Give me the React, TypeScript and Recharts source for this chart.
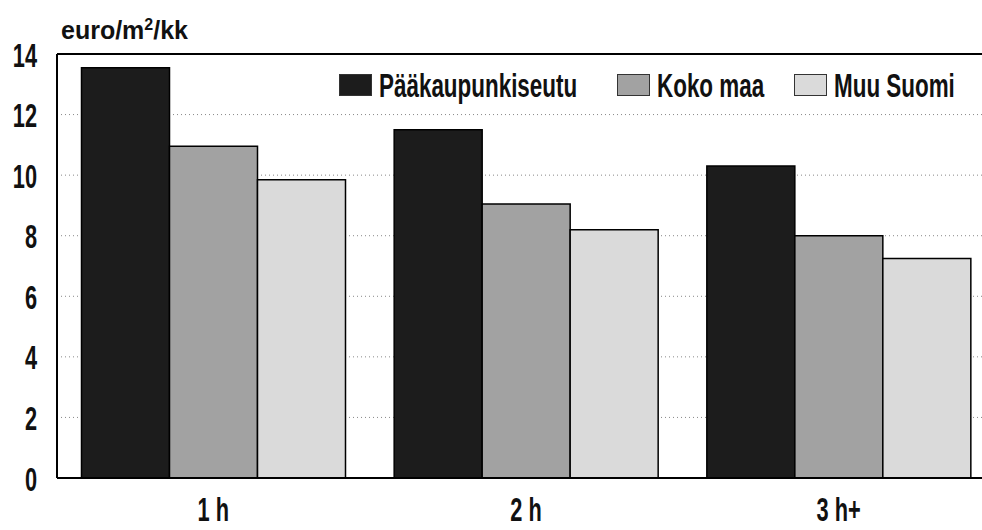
import React from "react"
import { BarChart, Bar, XAxis, YAxis, CartesianGrid, ReferenceLine } from "recharts"

// room types and rent per m2 per month
const categories = ["1 h", "2 h", "3 h+"]
const paakaupunkiseutu = [13.55, 11.5, 10.3]
const kokoMaa = [10.95, 9.05, 8.0]
const muuSuomi = [9.85, 8.2, 7.25]
const yTicks = [0, 2, 4, 6, 8, 10, 12, 14]

const seriesKeys = ["pk", "koko", "muu"]
const seriesNames = ["Pääkaupunkiseutu", "Koko maa", "Muu Suomi"]
const seriesColors = ["#1c1c1c", "#a2a2a2", "#dadada"]

const data = categories.map((c, i) => ({
  name: c,
  pk: paakaupunkiseutu[i],
  koko: kokoMaa[i],
  muu: muuSuomi[i],
}))

const FONT = "'Liberation Sans', Arial, sans-serif"
const SQUEEZE = 0.64

const YTick = (props: any) => {
  const { x, y, payload } = props
  return (
    <text
      transform={`translate(${x},${y}) scale(${SQUEEZE},1)`}
      textAnchor="end"
      dy={12.5}
      fontSize={34}
      fontWeight="bold"
      fontFamily={FONT}
      fill="#111"
    >
      {payload.value}
    </text>
  )
}

const XTick = (props: any) => {
  const { x, y, payload } = props
  return (
    <text
      transform={`translate(${x},${y}) scale(${SQUEEZE},1)`}
      textAnchor="middle"
      dy={43}
      fontSize={34}
      fontWeight="bold"
      fontFamily={FONT}
      fill="#111"
    >
      {payload.value}
    </text>
  )
}

const UnitLabel = () => (
  <text x={61} y={39} fontSize={25} fontWeight="bold" fontFamily={FONT} fill="#111">
    euro/m
    <tspan fontSize={16} dy={-9}>2</tspan>
    <tspan dy={9}>/kk</tspan>
  </text>
)

// legend item offsets, measured from the legend's left edge
const legendOffsets = [0, 278, 455]

function ChartLegend() {
  return (
    <svg width={640} height={30} style={{ position: "absolute", left: 339, top: 72, overflow: "visible" }}>
      {seriesNames.map((name, i) => (
        <g key={name} transform={`translate(${legendOffsets[i]},0)`}>
          <rect x={0.5} y={2.5} width={32} height={21} fill={seriesColors[i]} stroke="#333" strokeWidth={1} />
          <text
            transform={`translate(40,0) scale(0.68,1)`}
            y={25}
            fontSize={33}
            fontWeight="bold"
            fontFamily={FONT}
            fill="#111"
          >
            {name}
          </text>
        </g>
      ))}
    </svg>
  )
}

export default function App() {
  return (
    <div style={{ position: "absolute", left: 0, top: 0, width: 982, height: 530, overflow: "hidden", background: "#fff" }}>
      <BarChart
        width={1000}
        height={530}
        data={data}
        margin={{ top: 54, right: 5, left: 0, bottom: 0 }}
        barGap={0}
        barCategoryGap={24.5}
      >
        <CartesianGrid vertical={false} stroke="#888" strokeDasharray="1 3" />
        <YAxis
          domain={[0, 14]}
          ticks={yTicks}
          width={57}
          tickLine={false}
          tickSize={0}
          tickMargin={20}
          axisLine={{ stroke: "#000", strokeWidth: 2 }}
          tick={<YTick />}
          label={<UnitLabel />}
          interval={0}
        />
        <XAxis
          dataKey="name"
          tickLine={false}
          tickSize={0}
          tickMargin={0}
          axisLine={{ stroke: "#000", strokeWidth: 2 }}
          tick={<XTick />}
          height={52}
        />
        <ReferenceLine y={14} stroke="#000" strokeWidth={2} />
        {seriesKeys.map((k, i) => (
          <Bar
            key={k}
            dataKey={k}
            name={seriesNames[i]}
            fill={seriesColors[i]}
            stroke="#000"
            strokeWidth={1.5}
            isAnimationActive={false}
          />
        ))}
      </BarChart>
      <ChartLegend />
    </div>
  )
}
